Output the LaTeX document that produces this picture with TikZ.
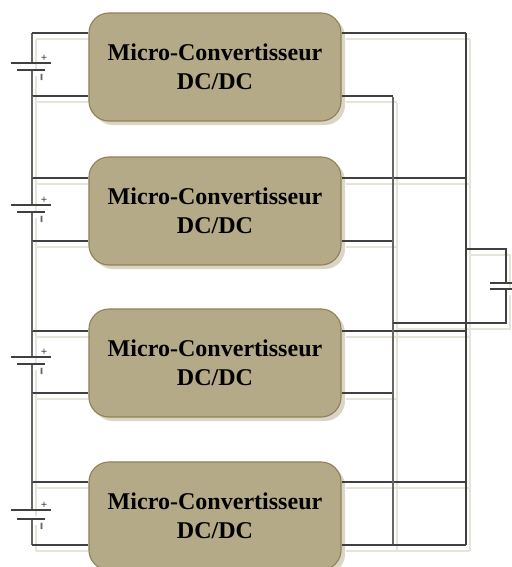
\documentclass[tikz,border=0pt]{standalone}
\usepackage{fontspec}
\setmainfont{Liberation Serif}
\usetikzlibrary{positioning, backgrounds}
\definecolor{boxfill}{HTML}{B5AA88}
\definecolor{boxedge}{HTML}{8F8158}
\definecolor{boxghost}{HTML}{D9D6C8}
\definecolor{wireghost}{HTML}{E6E3D9}
\definecolor{wiredark}{HTML}{404040}
\definecolor{busgray}{HTML}{666666}

% every wire of the circuit, drawn twice (pale offset copy, then the real one)
\newcommand{\allwires}{%
    \foreach \n/\ytop/\ybot/\yplus/\yminus in {1/33/96/63/70, 2/178/241/205/212, 3/331/393/357/364, 4/482/545/510/519} {
        \draw [bus] (busleft |- 0,\ytop) -- (busleft |- 0,\yplus);
        \draw [bus] (busleft |- 0,\yminus) -- (busleft |- 0,\ybot);
        \draw [wire] (busleft |- 0,\ytop) -- (conv\n.west |- 0,\ytop);
        \draw [wire] (busleft |- 0,\ybot) -- (conv\n.west |- 0,\ybot);
        \draw [wire] (conv\n.east |- 0,\ytop) -- (busouter |- 0,\ytop);
        \draw [wire] (conv\n.east |- 0,\ybot) -- (businner |- 0,\ybot);
    }
    \draw [bus] (busleft |- 0,96) -- (busleft |- 0,178);
    \draw [bus] (busleft |- 0,241) -- (busleft |- 0,331);
    \draw [bus] (busleft |- 0,393) -- (busleft |- 0,482);
    \draw [wire] (busouter |- 0,33) -- (busouter |- 0,545);
    \draw [bus] (businner |- 0,97) -- (businner |- 0,545);
    \draw [wire] (conv4.east |- 0,545) -- (busouter |- 0,545);
    \draw [wire] (busouter |- 0,249) -| (capplus);
    \draw [wire] (businner |- 0,323) -| (capminus);
}

\begin{document}
\begin{tikzpicture}[x=0.025cm, y=-0.025cm,
    converter/.style={rectangle, draw=boxedge, fill=boxfill, thick, text centered, rounded corners=0.5cm, minimum height=2.7cm, inner sep=0pt, text width=6.3cm, font=\fontsize{17.1}{20.5}\selectfont\bfseries},
    ghostbox/.style={rectangle, fill=boxghost, rounded corners=0.5cm, inner sep=0pt, minimum width=6.3cm, minimum height=2.7cm},
    wire/.style={draw=wiredark, line width=0.8pt},
    bus/.style={draw=busgray, line width=1.2pt},
    plate/.style={draw=wiredark, line width=1.2pt},
    plussign/.style={font=\footnotesize\bfseries, inner sep=0pt, text=wiredark},
    minussign/.style={font=\LARGE, inner sep=0pt, text=busgray, rotate=90}]

    \useasboundingbox (0,0) rectangle (512,567);
    \clip (0,0) rectangle (512,567);

    \coordinate (busleft) at (32,0);
    \coordinate (businner) at (393,0);
    \coordinate (busouter) at (466,0);
    \coordinate (capplus) at (506,283);
    \coordinate (capminus) at (506,289);

    % converters
    \node (conv1) [converter] at (215,67) {Micro-Convertisseur\\DC/DC};
    \node (conv2) [converter] at (215,211) {Micro-Convertisseur\\DC/DC};
    \node (conv3) [converter] at (215,363) {Micro-Convertisseur\\DC/DC};
    \node (conv4) [converter] at (215,516) {Micro-Convertisseur\\DC/DC};

    % pale copies
    \begin{scope}[on background layer]
        \node [ghostbox] at (219,71) {};
        \node [ghostbox] at (219,215) {};
        \node [ghostbox] at (219,367) {};
        \node [ghostbox] at (219,520) {};
        \begin{scope}[transform canvas={shift={(2.8pt,-4.2pt)}}, wire/.style={draw=wireghost, line width=1.2pt}, bus/.style={draw=wireghost, line width=1.4pt}]
            \allwires
        \end{scope}
    \end{scope}
    \allwires

    % batteries
    \foreach \n/\yplus/\yminus in {1/63/70, 2/205/212, 3/357/364, 4/510/519} {
        \draw [plate] (11,\yplus) -- (51,\yplus);
        \draw [plate] (17,\yminus) -- (45,\yminus);
        \node (plus\n) [plussign] at (44,\yplus-5) {+};
        \node (minus\n) [minussign] at (44,\yminus+7) {-};
    }

    % output capacitor
    \draw [plate] (490,283) -- (512,283);
    \draw [plate] (490,289) -- (512,289);
\end{tikzpicture}
\end{document}
